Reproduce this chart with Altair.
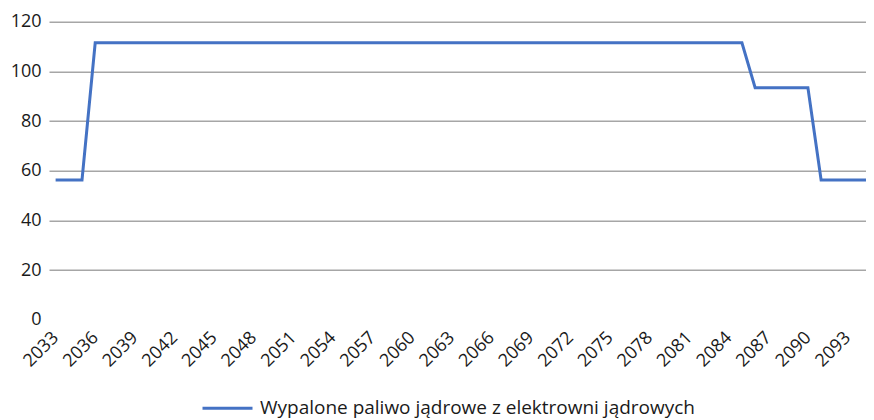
import altair as alt
import pandas as pd

years = list(range(2033, 2096))
values = [
    56.3, 56.3, 56.3,
    111.5, 111.5, 111.5, 111.5, 111.5, 111.5, 111.5, 111.5, 111.5, 111.5,
    111.5, 111.5, 111.5, 111.5, 111.5, 111.5, 111.5, 111.5, 111.5, 111.5,
    111.5, 111.5, 111.5, 111.5, 111.5, 111.5, 111.5, 111.5, 111.5, 111.5,
    111.5, 111.5, 111.5, 111.5, 111.5, 111.5, 111.5, 111.5, 111.5, 111.5,
    111.5, 111.5, 111.5, 111.5, 111.5, 111.5, 111.5, 111.5, 111.5, 111.5,
    93.4, 93.4, 93.4, 93.4, 93.4,
    56.3, 56.3, 56.3, 56.3, 56.3,
]
series_name = "Wypalone paliwo jądrowe z elektrowni jądrowych"
x_ticks = [2033, 2036, 2039, 2042, 2045, 2048, 2051, 2054, 2057, 2060, 2063,
           2066, 2069, 2072, 2075, 2078, 2081, 2084, 2087, 2090, 2093]
y_ticks = [0, 20, 40, 60, 80, 100, 120]

df = pd.DataFrame({"year": years, "value": values, "series": series_name})

FONT = "Open Sans"

chart = alt.Chart(df).mark_line(strokeWidth=3, clip=True).encode(
    x=alt.X(
        "year:Q",
        scale=alt.Scale(domain=[2032.5, 2094.4], nice=False, zero=False),
        axis=alt.Axis(
            values=x_ticks, format="d", labelAngle=-45, labelAlign="right",
            labelBaseline="middle", labelPadding=15, ticks=False, domain=False,
            grid=False, title=None, labelFontSize=18, labelFont=FONT,
            labelColor="#1a1a1a", labelOverlap=False, labelFlush=False,
        ),
    ),
    y=alt.Y(
        "value:Q",
        scale=alt.Scale(domain=[0, 120], nice=False),
        axis=alt.Axis(
            values=y_ticks, ticks=False, domain=False, title=None,
            labelFontSize=18, labelFont=FONT, labelColor="#1a1a1a",
            labelPadding=8,
            gridColor=alt.condition(alt.datum.value == 0, alt.value("transparent"), alt.value("#a6a6a6")),
            gridWidth=1.5,
        ),
    ),
    color=alt.Color(
        "series:N",
        scale=alt.Scale(range=["#4472C4"]),
        legend=alt.Legend(
            title=None, orient="none", legendX=152, legendY=360,
            symbolType="stroke", symbolSize=2500, symbolStrokeWidth=3,
            labelFontSize=19, labelFont=FONT, labelColor="#1a1a1a",
            labelOffset=6, labelLimit=0,
        ),
    ),
).properties(
    width=817,
    height=298,
    autosize=alt.AutoSizeParams(type="none"),
    padding={"left": 41, "top": 13.7, "right": 0, "bottom": 100},
).configure_view(stroke=None)

chart.save("out.html", embed_options={"renderer": "svg", "actions": False})
